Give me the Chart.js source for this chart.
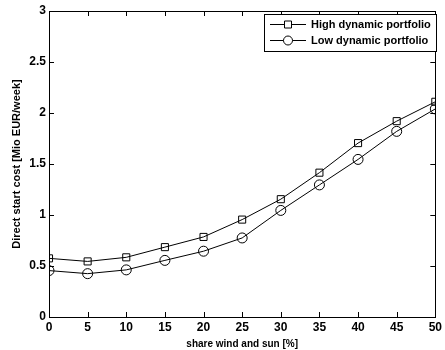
<!DOCTYPE html>
<html><head><meta charset="utf-8">
<script src="https://cdn.jsdelivr.net/npm/chart.js@4/dist/chart.umd.min.js"></script>
<style>html,body{margin:0;padding:0;background:#fff}#wrap{width:445px;height:350px}</style>
</head><body><div id="wrap"><canvas id="c" width="445" height="350"></canvas></div>
<script>
const shareWindSun = [0,5,10,15,20,25,30,35,40,45,50];
const highDynamic = [0.575,0.545,0.585,0.685,0.785,0.955,1.155,1.415,1.705,1.92,2.11];
const lowDynamic  = [0.455,0.425,0.462,0.555,0.645,0.775,1.045,1.295,1.545,1.82,2.04];
const seriesNames = ['High dynamic portfolio','Low dynamic portfolio'];
const xTicks = [0,5,10,15,20,25,30,35,40,45,50];
const yTicks = [0,0.5,1,1.5,2,2.5,3];

const FONT = 'Liberation Sans, Arial, sans-serif';

const boxTicks = {
  id:'boxTicks',
  afterDraw(chart){
    const {ctx, chartArea:a, scales:{x,y}} = chart;
    ctx.save();
    ctx.strokeStyle='#000'; ctx.lineWidth=1;
    ctx.strokeRect(Math.round(a.left)+0.5, Math.round(a.top)+0.5, Math.round(a.right-a.left), Math.round(a.bottom-a.top));
    const L=5;
    ctx.beginPath();
    xTicks.forEach(v=>{const px=Math.round(x.getPixelForValue(v))+0.5;
      ctx.moveTo(px,a.bottom); ctx.lineTo(px,a.bottom-L);
      ctx.moveTo(px,a.top); ctx.lineTo(px,a.top+L);});
    yTicks.forEach(v=>{const py=Math.round(y.getPixelForValue(v))+0.5;
      ctx.moveTo(a.left,py); ctx.lineTo(a.left+L,py);
      ctx.moveTo(a.right,py); ctx.lineTo(a.right-L,py);});
    ctx.stroke();
    // legend
    const bx=264.5, by=14.5, bw=172, bh=37;
    ctx.fillStyle='#fff'; ctx.fillRect(bx,by,bw,bh);
    ctx.strokeRect(bx,by,bw,bh);
    const rows=[24,40];
    chart.data.datasets.forEach((ds,i)=>{
      const ry=rows[i]+0.5;
      ctx.beginPath(); ctx.moveTo(270,ry); ctx.lineTo(306,ry); ctx.stroke();
      ctx.beginPath();
      if(ds.pointStyle==='rect'){ctx.rect(284.5,ry-3.5,7,7);}
      else {ctx.arc(288,ry,4.5,0,Math.PI*2);}
      ctx.fillStyle='#fff'; ctx.fill(); ctx.stroke();
      ctx.fillStyle='#000'; ctx.font='bold 11px '+FONT; ctx.textBaseline='middle'; ctx.textAlign='left';
      ctx.fillText(ds.label, 311, ry);
    });
    ctx.restore();
  }
};

new Chart(document.getElementById('c'),{
  type:'line',
  data:{datasets:[
    {label:seriesNames[0], data:shareWindSun.map((v,i)=>({x:v,y:highDynamic[i]})), borderColor:'#000', borderWidth:1,
     pointStyle:'rect', pointRadius:5, pointBackgroundColor:'rgba(0,0,0,0)', pointBorderColor:'#000', pointBorderWidth:1, tension:0},
    {label:seriesNames[1], data:shareWindSun.map((v,i)=>({x:v,y:lowDynamic[i]})), borderColor:'#000', borderWidth:1,
     pointStyle:'circle', pointRadius:5, pointBackgroundColor:'rgba(0,0,0,0)', pointBorderColor:'#000', pointBorderWidth:1, tension:0}
  ]},
  options:{
    responsive:false, animation:false, devicePixelRatio:1,
    layout:{padding:{top:11,right:6,left:0,bottom:0}},
    plugins:{legend:{display:false}, tooltip:{enabled:false}},
    scales:{
      x:{type:'linear', min:0, max:50,
        afterBuildTicks(s){s.ticks=xTicks.map(v=>({value:v}));},
        afterFit(s){s.height=33;},
        grid:{display:false, drawTicks:false}, border:{display:true,color:'#000'},
        ticks:{color:'#000', padding:3, font:{family:FONT, weight:'bold', size:12}, maxRotation:0, autoSkip:false},
        title:{display:true, text:'share wind and sun [%]', color:'#000', padding:{top:0,bottom:0}, font:{family:FONT, weight:'bold', size:10}}
      },
      y:{type:'linear', min:0, max:3,
        afterBuildTicks(s){s.ticks=yTicks.map(v=>({value:v}));},
        afterFit(s){s.width=49;},
        grid:{display:false, drawTicks:false}, border:{display:true,color:'#000'},
        ticks:{color:'#000', padding:3, font:{family:FONT, weight:'bold', size:12}, autoSkip:false, callback:v=>String(v)},
        title:{display:true, text:'Direct start cost [Mio EUR/week]', color:'#000', padding:{top:10,bottom:2}, font:{family:FONT, weight:'bold', size:11}}
      }
    }
  },
  plugins:[boxTicks]
});
</script></body></html>
